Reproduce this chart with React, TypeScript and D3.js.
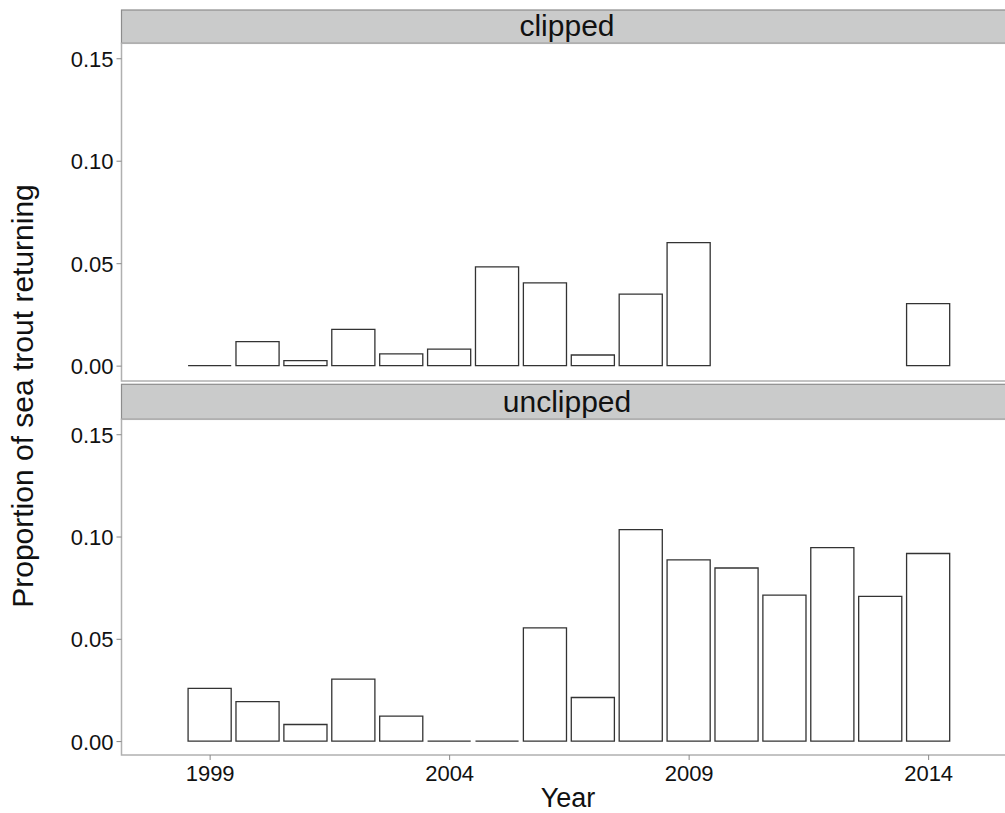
import React, { useRef, useEffect } from "react";
import * as d3 from "d3";

// data
const years = [1999, 2000, 2001, 2002, 2003, 2004, 2005, 2006, 2007, 2008, 2009, 2010, 2011, 2012, 2013, 2014];
const clipped = [0, 0.0117, 0.0024, 0.0177, 0.0057, 0.0081, 0.0482, 0.0404, 0.0052, 0.0349, 0.06, null, null, null, null, 0.0303];
const unclipped = [0.0258, 0.0193, 0.0081, 0.0303, 0.0122, 0, 0, 0.0553, 0.0213, 0.1034, 0.0886, 0.0846, 0.0714, 0.0946, 0.0707, 0.0917];
const facetNames = ["clipped", "unclipped"];
const yTicks = [0, 0.05, 0.1, 0.15];
const xTicks = [1999, 2004, 2009, 2014];

const FONT = "Arial, 'Liberation Sans', sans-serif";

const App = () => {
  const svgRef = useRef<SVGSVGElement>(null);

  useEffect(() => {
    const svg = d3.select(svgRef.current);
    svg.selectAll("*").remove();

    const left = 121.5;
    const x = d3.scaleLinear().domain([1997.16, 2015.84]).range([left, left + 18.68 * 47.9]);
    const barW = x(1999.9) - x(1999);

    const panels = [
      { name: facetNames[0], values: clipped, stripTop: 10, top: 43.3, bottom: 381, lo: -0.0075 },
      { name: facetNames[1], values: unclipped, stripTop: 384.3, top: 419.3, bottom: 755, lo: -0.0068 },
    ];

    panels.forEach((p, pi) => {
      const y = d3.scaleLinear().domain([p.lo, 0.1573]).range([p.bottom, p.top]);
      const right = x.range()[1];

      // strip
      svg
        .append("rect")
        .attr("x", left)
        .attr("y", p.stripTop)
        .attr("width", right - left)
        .attr("height", p.top - p.stripTop)
        .attr("fill", "#cacbcb")
        .attr("stroke", "#8c8c8c")
        .attr("stroke-width", 1.2);
      svg
        .append("text")
        .attr("x", 567)
        .attr("y", p.top - 7.5)
        .attr("text-anchor", "middle")
        .attr("font-family", FONT)
        .attr("font-size", 30)
        .attr("fill", "#111")
        .text(p.name);

      // panel
      svg
        .append("rect")
        .attr("x", left)
        .attr("y", p.top)
        .attr("width", right - left)
        .attr("height", p.bottom - p.top)
        .attr("fill", "white")
        .attr("stroke", "#b0b0b0")
        .attr("stroke-width", 1.5);

      // bars (as closed paths so zero-height bars still show their outline)
      const rows = years
        .map((yr, i) => ({ year: yr, v: p.values[i] }))
        .filter((d) => d.v !== null) as { year: number; v: number }[];
      svg
        .append("g")
        .selectAll("path")
        .data(rows)
        .enter()
        .append("path")
        .attr("d", (d) => {
          const x0 = x(d.year) - barW / 2;
          const x1 = x0 + barW;
          const y0 = y(0);
          const y1 = y(d.v);
          return `M${x0},${y0}L${x0},${y1}L${x1},${y1}L${x1},${y0}Z`;
        })
        .attr("fill", "white")
        .attr("stroke", "#333")
        .attr("stroke-width", 1.3);

      // y axis
      const ya = svg
        .append("g")
        .attr("transform", `translate(${left},0)`)
        .call(
          d3
            .axisLeft(y)
            .tickValues(yTicks)
            .tickFormat(d3.format(".2f"))
            .tickSize(5)
            .tickPadding(3)
        );
      ya.select(".domain").remove();
      ya.selectAll("line").attr("stroke", "#888");
      ya.selectAll("text")
        .attr("font-family", FONT)
        .attr("font-size", 22)
        .attr("fill", "#111")
        .attr("dy", "0.36em");

      if (pi === panels.length - 1) {
        const xa = svg
          .append("g")
          .attr("transform", `translate(0,${p.bottom})`)
          .call(
            d3
              .axisBottom(x)
              .tickValues(xTicks)
              .tickFormat((d) => String(d))
              .tickSize(5)
              .tickPadding(5)
          );
        xa.select(".domain").remove();
        xa.selectAll("line").attr("stroke", "#888");
        xa.selectAll("text").attr("font-family", FONT).attr("font-size", 22).attr("fill", "#111");
      }
    });

    svg
      .append("text")
      .attr("x", 568)
      .attr("y", 807)
      .attr("text-anchor", "middle")
      .attr("font-family", FONT)
      .attr("font-size", 27)
      .attr("fill", "#111")
      .text("Year");

    svg
      .append("text")
      .attr("transform", "translate(33,396) rotate(-90)")
      .attr("text-anchor", "middle")
      .attr("font-family", FONT)
      .attr("font-size", 30)
      .attr("fill", "#111")
      .text("Proportion of sea trout returning");
  }, []);

  return (
    <svg
      ref={svgRef}
      width={1005}
      height={813}
      style={{ position: "fixed", left: 0, top: 0, background: "white" }}
    ></svg>
  );
};

export default App;
